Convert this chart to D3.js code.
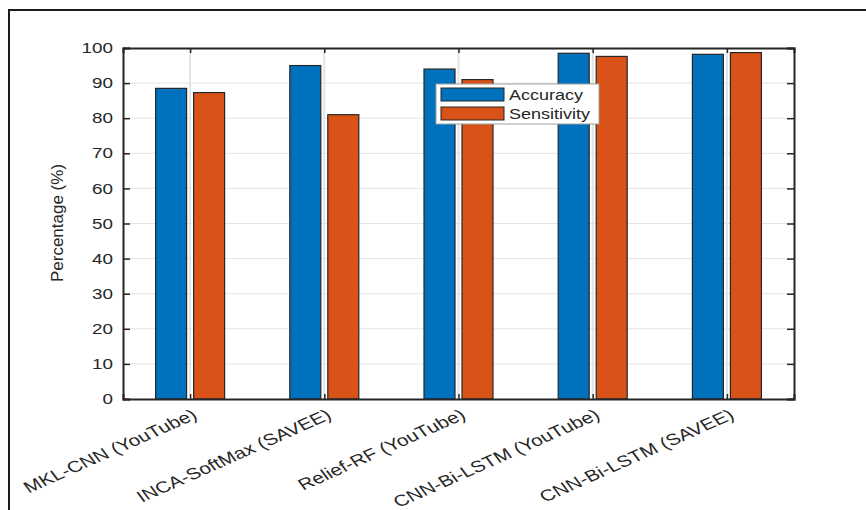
<!DOCTYPE html>
<html>
<head>
<meta charset="utf-8">
<script src="https://cdnjs.cloudflare.com/ajax/libs/d3/7.8.5/d3.min.js"></script>
<style>
  body { margin: 0; background: #fff; }
  text { font-family: "Liberation Sans", Arial, sans-serif; fill: #262626; }
</style>
</head>
<body>
<svg width="866" height="510"></svg>
<script>

// data
var categories = ["MKL-CNN (YouTube)", "INCA-SoftMax (SAVEE)", "Relief-RF (YouTube)",
                  "CNN-Bi-LSTM (YouTube)", "CNN-Bi-LSTM (SAVEE)"];
var seriesNames = ["Accuracy", "Sensitivity"];
var accuracy = [88.5, 95.0, 94.0, 98.5, 98.2];
var sensitivity = [87.3, 81.0, 91.0, 97.6, 98.7];
var yTicks = [0, 10, 20, 30, 40, 50, 60, 70, 80, 90, 100];
var colors = ["#0072BD", "#D95319"];

var svg = d3.select("svg"),
    margin = {top: 48, right: 72, bottom: 111, left: 123},
    width = 866 - margin.left - margin.right,
    height = 510 - margin.top - margin.bottom,
    stretch = 1.3;   // the figure is a bit wider than tall text would be

// outer figure frame (left + top edges only)
svg.append("path")
    .attr("d", "M9,510V10H866")
    .attr("fill", "none")
    .attr("stroke", "#1a1a1a")
    .attr("stroke-width", 2);

var g = svg.append("g")
    .attr("transform", "translate(" + margin.left + "," + margin.top + ")");

var x = d3.scaleLinear()
    .domain([0.5, categories.length + 0.5])
    .range([0, width]);

var y = d3.scaleLinear()
    .domain([0, 100])
    .range([height, 0]);

// grid
g.append("g")
    .attr("class", "grid")
    .selectAll("line.h")
    .data(yTicks.slice(1, -1))
    .enter().append("line")
    .attr("x1", 0).attr("x2", width)
    .attr("y1", function(d) { return y(d); })
    .attr("y2", function(d) { return y(d); })
    .attr("stroke", "#e3e3e3")
    .attr("stroke-width", 1);

g.append("g")
    .selectAll("line")
    .data(categories)
    .enter().append("line")
    .attr("x1", function(d, i) { return x(i + 1); })
    .attr("x2", function(d, i) { return x(i + 1); })
    .attr("y1", 0).attr("y2", height)
    .attr("stroke", "#e3e3e3")
    .attr("stroke-width", 2);

// bars
var barW = 31, offset = 19;
var series = [accuracy, sensitivity];

series.forEach(function(vals, s) {
    g.append("g")
        .selectAll("rect")
        .data(vals)
        .enter().append("rect")
        .attr("x", function(d, i) { return x(i + 1) + (s === 0 ? -offset : offset) - barW / 2; })
        .attr("y", function(d) { return y(d); })
        .attr("width", barW)
        .attr("height", function(d) { return y(0) - y(d); })
        .attr("fill", colors[s])
        .attr("stroke", "#262626")
        .attr("stroke-width", 1.2);
});

// axes (box with inward ticks)
var tickVals = d3.range(1, categories.length + 1);

var yAxis = g.append("g")
    .call(d3.axisLeft(y).tickValues(yTicks).tickSize(-7).tickPadding(17).tickFormat(d3.format("d")));
yAxis.selectAll("text")
    .attr("font-size", 14.5)
    .attr("x", null)
    .attr("transform", "translate(-10,0) scale(" + stretch + ",1)");

g.append("g")
    .attr("transform", "translate(" + width + ",0)")
    .call(d3.axisRight(y).tickValues(yTicks).tickSize(-7).tickFormat(""));

g.append("g")
    .attr("transform", "translate(0," + height + ")")
    .call(d3.axisBottom(x).tickValues(tickVals).tickSize(-5).tickFormat(""));

g.append("g")
    .call(d3.axisTop(x).tickValues(tickVals).tickSize(-5).tickFormat(""));

g.selectAll(".domain")
    .attr("stroke", "#262626")
    .attr("stroke-width", 2);
g.selectAll(".tick line")
    .attr("stroke", "#262626")
    .attr("stroke-width", 1.5);
g.selectAll(".tick text").attr("fill", "#262626");

// rotated category labels
g.append("g")
    .selectAll("text")
    .data(categories)
    .enter().append("text")
    .attr("transform", function(d, i) {
        return "translate(" + (x(i + 1) + 1) + "," + (height + 9) + ") scale(" + stretch + ",1) rotate(-30)";
    })
    .attr("text-anchor", "end")
    .attr("dy", "0.72em")
    .attr("font-size", 16)
    .text(function(d) { return d; });

// y label
svg.append("text")
    .attr("transform", "translate(63,223) rotate(-90)")
    .attr("text-anchor", "middle")
    .attr("font-size", 17)
    .text("Percentage (%)");

// legend
var legend = svg.append("g")
    .attr("transform", "translate(436,84)");

legend.append("rect")
    .attr("width", 163)
    .attr("height", 40)
    .attr("fill", "#fff")
    .attr("stroke", "#a0a0a0")
    .attr("stroke-width", 1);

var item = legend.selectAll("g.item")
    .data(seriesNames)
    .enter().append("g")
    .attr("class", "item")
    .attr("transform", function(d, i) { return "translate(5," + (4 + i * 19) + ")"; });

item.append("rect")
    .attr("width", 63)
    .attr("height", 13)
    .attr("fill", function(d, i) { return colors[i]; })
    .attr("stroke", "#262626")
    .attr("stroke-width", 1);

item.append("text")
    .attr("transform", "translate(68,12) scale(1.2,1)")
    .attr("font-size", 15)
    .attr("fill", "#000")
    .text(function(d) { return d; });

</script>
</body>
</html>
